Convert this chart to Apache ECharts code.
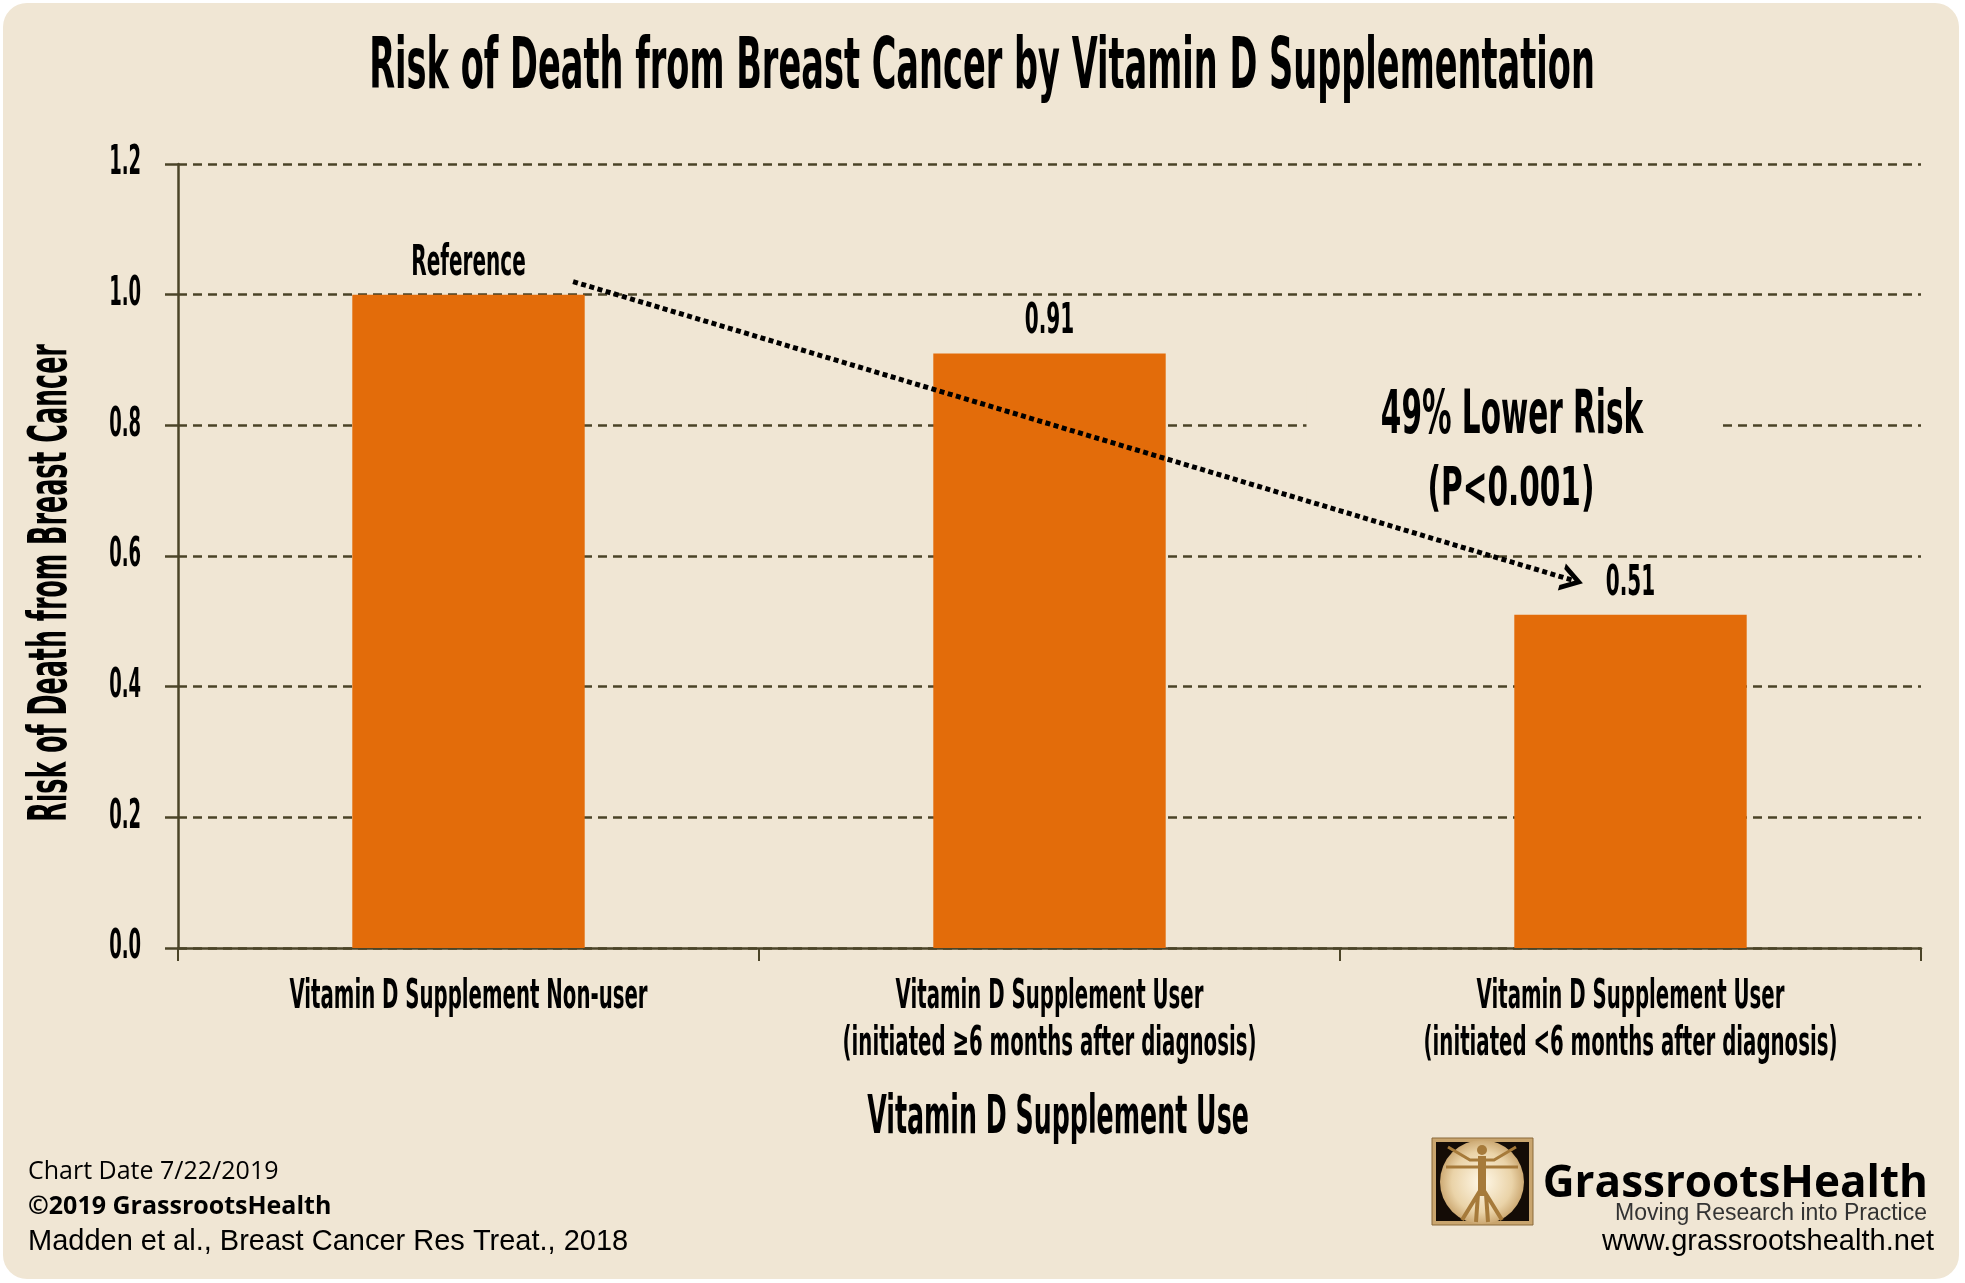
<!DOCTYPE html>
<html>
<head>
<meta charset="utf-8">
<script src="https://cdn.jsdelivr.net/npm/echarts@6/dist/echarts.min.js"></script>
<style>
html,body{margin:0;padding:0;background:#ffffff;}
#chart{width:1965px;height:1283px;}
</style>
</head>
<body>
<div id="chart"></div>
<script>
// ---- data ----
const categories = [
  'Vitamin D Supplement Non-user',
  'Vitamin D Supplement User\n(initiated \u22656 months after diagnosis)',
  'Vitamin D Supplement User\n(initiated <6 months after diagnosis)'
];
const riskValues = [1.0, 0.91, 0.51];
const barLabels = ['Reference', '0.91', '0.51'];
const yTicks = [0, 0.2, 0.4, 0.6, 0.8, 1.0, 1.2];
// trend arrow endpoints in (category position, risk) units
const arrowStart = [0.18, 1.02];
const arrowEnd = [1.90, 0.563];

const titleText = 'Risk of Death from Breast Cancer by Vitamin D Supplementation';
const yName = 'Risk of Death from Breast Cancer';
const xName = 'Vitamin D Supplement Use';
const noteLine1 = '49% Lower Risk';
const noteLine2 = '(P<0.001)';
const footerLines = ['Chart Date 7/22/2019', '\u00a92019 GrassrootsHealth', 'Madden et al., Breast Cancer Res Treat., 2018'];

const NARROW = '"Liberation Sans Narrow", "DejaVu Sans Condensed", "Arial Narrow", sans-serif';
const BG = '#F0E6D4';
const AXIS = '#4B4428';
const BAR = '#E36C0A';

function textStyle(o) {
  return Object.assign({
    text: o.text, x: 0, y: 0,
    fontSize: o.size, fontFamily: o.family || NARROW, fontWeight: o.weight || 'bold',
    fill: o.fill || '#000',
    align: o.align || 'center', textAlign: o.align || 'center',
    verticalAlign: 'middle', textVerticalAlign: 'middle'
  }, o.extra || {});
}
function txt(o) {
  return {
    type: 'text', z: o.z || 50, x: o.x, y: o.y, rotation: o.rotation || 0,
    scaleX: o.scaleX || 1, scaleY: 1, silent: true,
    style: textStyle(o)
  };
}

const chart = echarts.init(document.getElementById('chart'));
const option = {
  animation: false,
  backgroundColor: 'transparent',
  grid: { left: 178, right: 44, top: 164, bottom: 335, containLabel: false },
  xAxis: [{
    type: 'category',
    data: categories,
    axisLine: { show: true, onZero: false, lineStyle: { color: AXIS, width: 2.5 } },
    axisTick: { show: true, length: 13, lineStyle: { color: AXIS, width: 2 } },
    axisLabel: { show: false },
    splitLine: { show: false }
  }, {
    type: 'value', min: -0.5, max: 2.5, show: false
  }],
  yAxis: {
    type: 'value', min: 0, max: 1.2, interval: 0.2,
    axisLine: { show: true, onZero: false, lineStyle: { color: AXIS, width: 2.5 } },
    axisTick: { show: true, length: 13, lineStyle: { color: AXIS, width: 2.5 } },
    axisLabel: { show: false },
    splitLine: { show: true, lineStyle: { color: AXIS, width: 2.5, type: [9, 6] } }
  },
  series: [{
    type: 'bar',
    data: riskValues,
    barWidth: '40%',
    itemStyle: { color: BAR },
    z: 3,
    label: { show: false }
  }, {
    // y tick labels (condensed lettering), placed by the y scale
    type: 'custom',
    xAxisIndex: 1,
    clip: false,
    silent: true,
    z: 30,
    data: yTicks.map(v => [-0.5, v]),
    renderItem: function (params, api) {
      const v = api.value(1);
      const p = api.coord([api.value(0), v]);
      return {
        type: 'text', x: p[0] - 37, y: p[1], scaleX: 0.5, scaleY: 1,
        style: textStyle({ text: v.toFixed(1), size: 40, align: 'right' })
      };
    }
  }, {
    // value labels above bars (condensed lettering)
    type: 'custom',
    clip: false,
    silent: true,
    z: 30,
    data: riskValues.map((v, i) => [i, v]),
    renderItem: function (params, api) {
      const i = api.value(0);
      const p = api.coord([i, api.value(1)]);
      return {
        type: 'text', x: p[0], y: p[1] - 31, scaleX: 0.53, scaleY: 1,
        style: textStyle({ text: barLabels[i], size: 42 })
      };
    }
  }, {
    // category labels under the axis (condensed lettering)
    type: 'custom',
    clip: false,
    silent: true,
    z: 30,
    data: categories.map((c, i) => [i, 0]),
    renderItem: function (params, api) {
      const i = api.value(0);
      const p = api.coord([i, 0]);
      const lines = categories[i].split('\n');
      return {
        type: 'group',
        children: lines.map((ln, k) => ({
          type: 'text', x: p[0], y: p[1] + 49 + k * 47, scaleX: 0.535, scaleY: 1,
          style: textStyle({ text: ln, size: 41 })
        }))
      };
    }
  }, {
    type: 'line',
    xAxisIndex: 1,
    data: [],
    z: 20,
    markLine: {
      silent: true,
      symbol: ['none', 'path://M0,20 L10,0 L20,20 L16,20 L10,8 L4,20 Z'],
      symbolSize: [28, 22],
      label: { show: false },
      lineStyle: { color: '#000', width: 5, type: [5, 3.5], cap: 'butt' },
      data: [[{ coord: arrowStart }, { coord: arrowEnd }]]
    }
  }],
  graphic: [
    { type: 'rect', z: -100, silent: true, shape: { x: 3, y: 3, width: 1956, height: 1276, r: 24 }, style: { fill: BG } },
    txt({ text: titleText, x: 982, y: 69, size: 72, scaleX: 0.519 }),
    txt({ text: yName, x: 52, y: 583, size: 53, scaleX: 0.532, rotation: Math.PI / 2 }),
    txt({ text: xName, x: 1058, y: 1119, size: 53, scaleX: 0.53 }),
    txt({ text: noteLine1, x: 1512, y: 417, size: 60, scaleX: 0.547, z: 100,
          extra: { backgroundColor: BG, padding: [4, 136, 4, 136] } }),
    txt({ text: noteLine2, x: 1511, y: 491, size: 54, scaleX: 0.608, z: 100 }),
    txt({ text: footerLines[0], x: 28, y: 1172, size: 25, family: '"Open Sans", Lato, sans-serif', weight: 'normal', align: 'left' }),
    txt({ text: footerLines[1], x: 28, y: 1207, size: 25, family: '"Open Sans", Lato, sans-serif', weight: 'bold', align: 'left' }),
    txt({ text: footerLines[2], x: 28, y: 1242, size: 29, family: '"Liberation Sans", Arial, sans-serif', weight: 'normal', align: 'left' }),
    // logo
    { type: 'rect', z: 10, silent: true, shape: { x: 1432, y: 1138, width: 101, height: 87 },
      style: { fill: '#C9A56E', stroke: '#8B6B3A', lineWidth: 1 } },
    { type: 'rect', z: 11, silent: true, shape: { x: 1436, y: 1142, width: 93, height: 79 }, style: { fill: '#140C06' } },
    { type: 'circle', z: 12, silent: true, shape: { cx: 1482, cy: 1182, r: 42 },
      style: { fill: new echarts.graphic.RadialGradient(0.5, 0.5, 0.6, [
        { offset: 0, color: '#FFF8E8' }, { offset: 0.6, color: '#EAD3A8' }, { offset: 1, color: '#B88C4E' }]) } },
    { type: 'polyline', z: 13, silent: true, shape: { points: [[1448, 1147], [1470, 1160], [1494, 1160], [1516, 1147]] }, style: { stroke: '#A67A3A', lineWidth: 3, fill: null } },
    { type: 'polyline', z: 13, silent: true, shape: { points: [[1446, 1167], [1518, 1167]] }, style: { stroke: '#A67A3A', lineWidth: 3, fill: null } },
    { type: 'polyline', z: 13, silent: true, shape: { points: [[1482, 1156], [1482, 1196]] }, style: { stroke: '#A67A3A', lineWidth: 8, fill: null } },
    { type: 'polyline', z: 13, silent: true, shape: { points: [[1462, 1220], [1478, 1194], [1476, 1222]] }, style: { stroke: '#A67A3A', lineWidth: 4, fill: null } },
    { type: 'polyline', z: 13, silent: true, shape: { points: [[1502, 1220], [1486, 1194], [1488, 1222]] }, style: { stroke: '#A67A3A', lineWidth: 4, fill: null } },
    { type: 'circle', z: 13, silent: true, shape: { cx: 1482, cy: 1150, r: 5 }, style: { fill: '#A67A3A' } },
    txt({ text: 'GrassrootsHealth', x: 1928, y: 1184, size: 44, family: '"Open Sans", "Noto Sans", sans-serif', weight: 'bold', align: 'right' }),
    txt({ text: 'Moving Research into Practice', x: 1927, y: 1214, size: 23, family: '"Liberation Sans", Arial, sans-serif', weight: 'normal', align: 'right', fill: '#333' }),
    txt({ text: 'www.grassrootshealth.net', x: 1934, y: 1242, size: 29, family: '"Liberation Sans", Arial, sans-serif', weight: 'normal', align: 'right' })
  ]
};
chart.setOption(option);
</script>
</body>
</html>
